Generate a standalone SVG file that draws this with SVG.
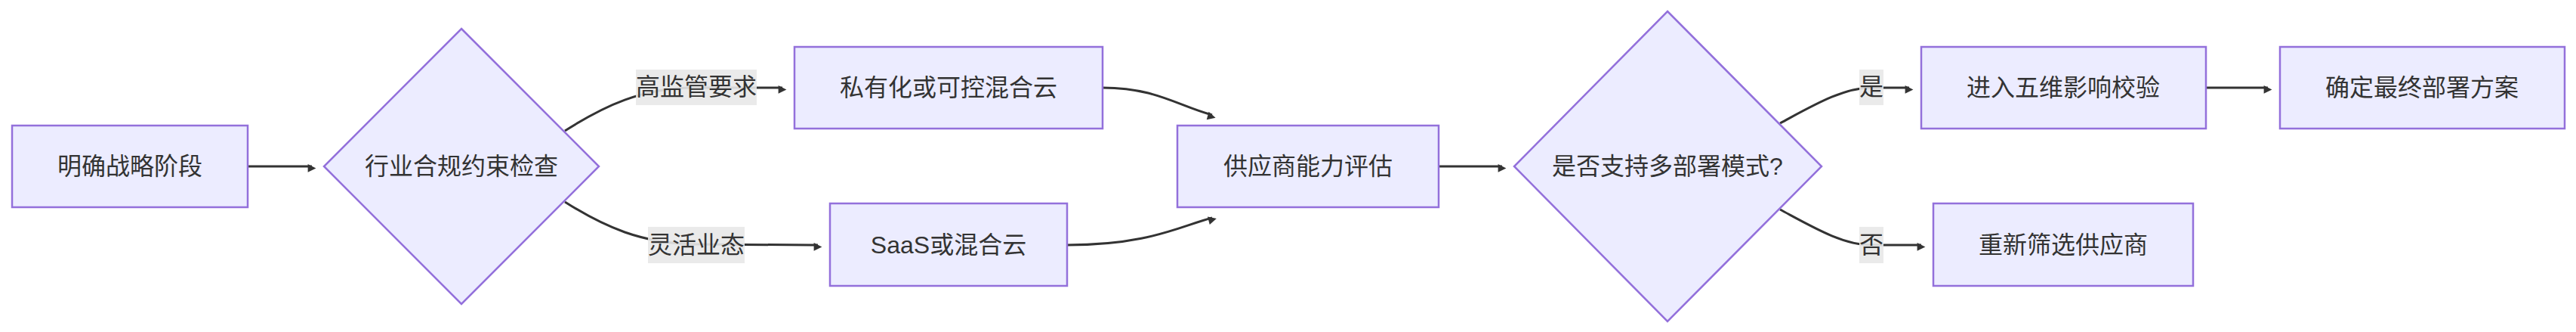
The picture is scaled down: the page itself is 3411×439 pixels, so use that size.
<svg xmlns="http://www.w3.org/2000/svg" width="3411" height="439" viewBox="0 0 3411 439">
<style>
.n{fill:#ECECFF;stroke:#9370DB;stroke-width:2.5}
.t{font-family:"Liberation Sans","Noto Sans CJK SC",sans-serif;font-size:32px;fill:#333;text-anchor:middle;dominant-baseline:central}
.e{fill:none;stroke:#333;stroke-width:3}
.lb{fill:#e8e8e8;opacity:0.9}
</style>
<defs><marker id="a" viewBox="0 0 10 10" refX="9" refY="5" markerWidth="6" markerHeight="6" orient="auto" markerUnits="userSpaceOnUse" style="overflow:visible"><path d="M0,0L10,5L0,10z" fill="#333" transform="scale(1.8)"/></marker></defs>
<rect width="3411" height="439" fill="#fff"/>
<g id="edges">
<path class="e" d="M328,220H413" marker-end="url(#a)"/>
<path class="e" d="M748,173C800,140 850,116 920,116H1036" marker-end="url(#a)"/>
<path class="e" d="M748,267C800,300 850,322 920,323C1000,324 1040,324 1083,324" marker-end="url(#a)"/>
<path class="e" d="M1460,116C1530,116 1560,140 1605,152" marker-end="url(#a)"/>
<path class="e" d="M1413,324C1520,324 1560,300 1605,288" marker-end="url(#a)"/>
<path class="e" d="M1905,220H1989" marker-end="url(#a)"/>
<path class="e" d="M2357,163C2400,140 2440,116 2478,116H2528" marker-end="url(#a)"/>
<path class="e" d="M2357,277C2400,300 2440,324 2478,324H2544" marker-end="url(#a)"/>
<path class="e" d="M2921,116H3003" marker-end="url(#a)"/>
<rect class="lb" x="842" y="92" width="160" height="47"/><text class="t" x="922" y="115">高监管要求</text>
<rect class="lb" x="858" y="300" width="128" height="48"/><text class="t" x="922" y="324">灵活业态</text>
<rect class="lb" x="2462" y="92" width="32" height="47"/><text class="t" x="2478" y="115">是</text>
<rect class="lb" x="2462" y="300" width="32" height="48"/><text class="t" x="2478" y="324">否</text>
</g>
<g id="n1"><rect class="n" x="16" y="166" width="312" height="108"/><text class="t" x="172" y="220">明确战略阶段</text></g>
<g id="n2"><polygon class="n" points="611,38 793,220 611,402 429,220"/><text class="t" x="611" y="220">行业合规约束检查</text></g>
<g id="n3"><rect class="n" x="1052" y="62" width="408" height="108"/><text class="t" x="1256" y="116">私有化或可控混合云</text></g>
<g id="n4"><rect class="n" x="1099" y="269" width="314" height="109"/><text class="t" x="1256" y="324">SaaS或混合云</text></g>
<g id="n5"><rect class="n" x="1559" y="166" width="346" height="108"/><text class="t" x="1732" y="220">供应商能力评估</text></g>
<g id="n6"><polygon class="n" points="2208,15 2412,220 2208,425 2005,220"/><text class="t" x="2208" y="220">是否支持多部署模式?</text></g>
<g id="n7"><rect class="n" x="2544" y="62" width="377" height="108"/><text class="t" x="2732" y="116">进入五维影响校验</text></g>
<g id="n8"><rect class="n" x="3019" y="62" width="377" height="108"/><text class="t" x="3207" y="116">确定最终部署方案</text></g>
<g id="n9"><rect class="n" x="2560" y="269" width="344" height="109"/><text class="t" x="2732" y="324">重新筛选供应商</text></g>
</svg>
